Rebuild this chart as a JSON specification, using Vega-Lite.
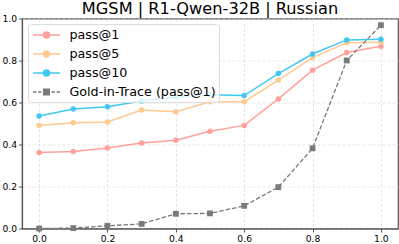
{
  "$schema": "https://vega.github.io/schema/vega-lite/v6.json",
  "width": 376,
  "height": 210,
  "autosize": {"type": "none"},
  "padding": {"left": 22, "top": 18.5, "right": 1, "bottom": 15.5},
  "background": "white",
  "title": {
    "text": "MGSM | R1-Qwen-32B | Russian",
    "font": "DejaVu Sans",
    "fontSize": 16.2,
    "fontWeight": "normal",
    "color": "black",
    "offset": 4,
    "dy": 7,
    "anchor": "middle"
  },
  "config": {
    "view": {"stroke": "#555", "strokeWidth": 1.2},
    "axis": {
      "labelFont": "DejaVu Sans",
      "labelFontSize": 9.2,
      "labelColor": "black",
      "domainColor": "#555",
      "domainWidth": 1.2,
      "tickColor": "#555",
      "tickSize": 3.5,
      "tickWidth": 1,
      "labelPadding": 2,
      "gridColor": "#d8d8d8",
      "gridDash": [3, 2],
      "gridWidth": 0.8,
      "gridOpacity": 0.8,
      "title": null
    }
  },
  "data": {
    "values": [
      {"x": 0.0, "series": "pass@1", "y": 0.362},
      {"x": 0.1, "series": "pass@1", "y": 0.367},
      {"x": 0.2, "series": "pass@1", "y": 0.383},
      {"x": 0.3, "series": "pass@1", "y": 0.407},
      {"x": 0.4, "series": "pass@1", "y": 0.42},
      {"x": 0.5, "series": "pass@1", "y": 0.463},
      {"x": 0.6, "series": "pass@1", "y": 0.491},
      {"x": 0.7, "series": "pass@1", "y": 0.617},
      {"x": 0.8, "series": "pass@1", "y": 0.754},
      {"x": 0.9, "series": "pass@1", "y": 0.838},
      {"x": 1.0, "series": "pass@1", "y": 0.868},
      {"x": 0.0, "series": "pass@5", "y": 0.491},
      {"x": 0.1, "series": "pass@5", "y": 0.504},
      {"x": 0.2, "series": "pass@5", "y": 0.507},
      {"x": 0.3, "series": "pass@5", "y": 0.564},
      {"x": 0.4, "series": "pass@5", "y": 0.556},
      {"x": 0.5, "series": "pass@5", "y": 0.604},
      {"x": 0.6, "series": "pass@5", "y": 0.604},
      {"x": 0.7, "series": "pass@5", "y": 0.707},
      {"x": 0.8, "series": "pass@5", "y": 0.814},
      {"x": 0.9, "series": "pass@5", "y": 0.884},
      {"x": 1.0, "series": "pass@5", "y": 0.887},
      {"x": 0.0, "series": "pass@10", "y": 0.536},
      {"x": 0.1, "series": "pass@10", "y": 0.569},
      {"x": 0.2, "series": "pass@10", "y": 0.58},
      {"x": 0.3, "series": "pass@10", "y": 0.607},
      {"x": 0.4, "series": "pass@10", "y": 0.625},
      {"x": 0.5, "series": "pass@10", "y": 0.637},
      {"x": 0.6, "series": "pass@10", "y": 0.633},
      {"x": 0.7, "series": "pass@10", "y": 0.738},
      {"x": 0.8, "series": "pass@10", "y": 0.831},
      {"x": 0.9, "series": "pass@10", "y": 0.898},
      {"x": 1.0, "series": "pass@10", "y": 0.901},
      {"x": 0.0, "series": "Gold-in-Trace (pass@1)", "y": 0.0},
      {"x": 0.1, "series": "Gold-in-Trace (pass@1)", "y": 0.002},
      {"x": 0.2, "series": "Gold-in-Trace (pass@1)", "y": 0.013},
      {"x": 0.3, "series": "Gold-in-Trace (pass@1)", "y": 0.022},
      {"x": 0.4, "series": "Gold-in-Trace (pass@1)", "y": 0.07},
      {"x": 0.5, "series": "Gold-in-Trace (pass@1)", "y": 0.072},
      {"x": 0.6, "series": "Gold-in-Trace (pass@1)", "y": 0.108},
      {"x": 0.7, "series": "Gold-in-Trace (pass@1)", "y": 0.197},
      {"x": 0.8, "series": "Gold-in-Trace (pass@1)", "y": 0.382},
      {"x": 0.9, "series": "Gold-in-Trace (pass@1)", "y": 0.8},
      {"x": 1.0, "series": "Gold-in-Trace (pass@1)", "y": 0.968}
    ]
  },
  "encoding": {
    "x": {
      "field": "x",
      "type": "quantitative",
      "scale": {"domain": [-0.05, 1.05], "nice": false, "zero": false},
      "axis": {"values": [0, 0.2, 0.4, 0.6, 0.8, 1.0], "format": ".1f"}
    },
    "y": {
      "field": "y",
      "type": "quantitative",
      "scale": {"domain": [0, 1], "nice": false},
      "axis": {"values": [0, 0.2, 0.4, 0.6, 0.8, 1.0], "format": ".1f"}
    },
    "color": {
      "field": "series",
      "type": "nominal",
      "sort": null,
      "scale": {
        "domain": ["pass@1", "pass@5", "pass@10", "Gold-in-Trace (pass@1)"],
        "range": ["#ffa09a", "#ffc990", "#40c8f0", "#7a7a7a"]
      },
      "legend": {
        "orient": "none",
        "legendX": 6,
        "legendY": 5.5,
        "title": null,
        "labelFont": "DejaVu Sans",
        "labelFontSize": 12.7,
        "labelColor": "black",
        "fillColor": "rgba(255,255,255,0.8)",
        "strokeColor": "#dcdcdc",
        "cornerRadius": 3,
        "padding": 3,
        "rowPadding": 4,
        "symbolSize": 196,
        "symbolStrokeWidth": 1.5,
        "symbolOffset": 7.5,
        "labelOffset": 15,
        "symbolType": "M-1.93,0H1.93M-0.43,0A0.43,0.43,0,1,1,0.43,0A0.43,0.43,0,1,1,-0.43,0Z",
        "encode": {
          "symbols": {
            "update": {
              "shape": {"signal": "datum.value === 'Gold-in-Trace (pass@1)' ? 'M-1.93,0H-1.45M-1.2,0H-0.72M0.72,0H1.2M1.45,0H1.93M-0.4,-0.4H0.4V0.4H-0.4Z' : 'M-1.93,0H1.93M-0.43,0A0.43,0.43,0,1,1,0.43,0A0.43,0.43,0,1,1,-0.43,0Z'"},
              "fill": {"scale": "color", "field": "value"},
              "stroke": {"scale": "color", "field": "value"},
              "opacity": {"value": 1}
            }
          }
        }
      }
    }
  },
  "layer": [
    {
      "transform": [{"filter": "datum.series !== 'Gold-in-Trace (pass@1)'"}],
      "mark": {"type": "line", "strokeWidth": 1.5},
      "encoding": {}
    },
    {
      "transform": [{"filter": "datum.series === 'Gold-in-Trace (pass@1)'"}],
      "mark": {"type": "line", "strokeWidth": 1.3, "strokeDash": [4.5, 2]},
      "encoding": {}
    },
    {
      "transform": [{"filter": "datum.series !== 'Gold-in-Trace (pass@1)'"}],
      "mark": {"type": "point", "filled": true, "opacity": 1, "size": 30, "shape": "circle"},
      "encoding": {}
    },
    {
      "transform": [{"filter": "datum.series === 'Gold-in-Trace (pass@1)'"}],
      "mark": {"type": "point", "filled": true, "opacity": 1, "size": 34, "shape": "square"},
      "encoding": {}
    }
  ]
}
